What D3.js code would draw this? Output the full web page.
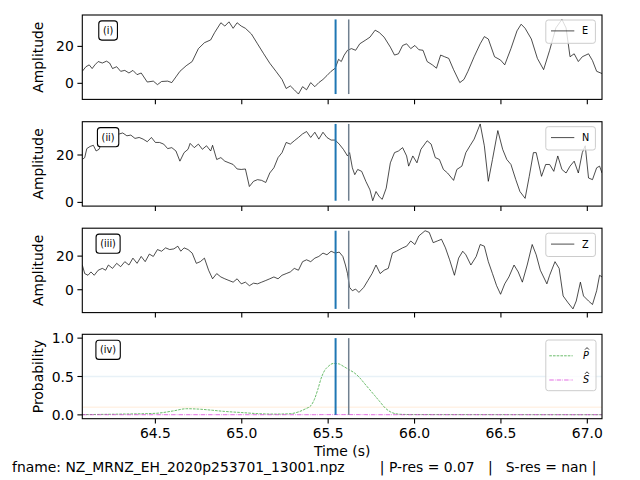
<!DOCTYPE html>
<html><head><meta charset="utf-8">
<script src="https://cdn.jsdelivr.net/npm/d3@7"></script>
<style>body{margin:0;background:#fff}svg text{font-family:"DejaVu Sans",sans-serif}</style>
</head><body>
<svg id="chart" width="640" height="480"></svg>
<script>
// ---------- data ----------
const timeE=[64.077,64.098,64.117,64.134,64.150,64.169,64.193,64.217,64.235,64.252,64.276,64.299,64.323,64.347,64.370,64.394,64.418,64.453,64.488,64.512,64.536,64.571,64.595,64.619,64.642,64.678,64.713,64.749,64.784,64.820,64.843,64.879,64.902,64.926,64.950,64.973,64.997,65.021,65.056,65.091,65.127,65.162,65.198,65.233,65.257,65.281,65.304,65.328,65.352,65.375,65.399,65.423,65.446,65.470,65.493,65.517,65.541,65.560,65.576,65.593,65.612,65.635,65.659,65.683,65.718,65.742,65.772,65.796,65.824,65.860,65.884,65.907,65.931,65.954,65.978,66.002,66.025,66.049,66.073,66.103,66.127,66.151,66.174,66.198,66.226,66.262,66.286,66.309,66.345,66.380,66.404,66.427,66.463,66.498,66.522,66.558,66.593,66.617,66.640,66.676,66.711,66.747,66.782,66.818,66.853,66.877,66.900,66.924,66.948,66.971,67.007,67.030,67.054,67.085];
const ampE=[6.5,9,10,8,10,11.8,11,12,11,8,9,6.5,7,5.6,7,4.7,5.6,0.7,1.2,-0.7,1,1.2,0.4,3.5,6.5,9.5,11.8,18.8,22,23.5,27.5,32.8,31,33.3,29.8,32.8,31,29.8,26.7,21.4,16,10.9,6.5,2.1,-2.8,-1.4,-3.5,-5.8,-1.8,-3.5,0.4,-1.8,0.4,2.1,4.2,6.5,8.2,13,11.8,15.3,17.9,18.8,17.9,21.4,23.5,25,28.8,27.5,25,19.6,15.3,16,20.5,21.4,18.8,20.5,18.2,17.9,11.8,10,8.2,15.3,14.4,13.5,7.4,0.4,2.1,6.5,14.4,21.4,25.3,24,14.4,12.6,10,18.8,28.4,32,29.8,24,13.5,7.4,17.9,30,34.6,30,14.4,16,11.8,14.4,16,12.3,6.5,5.3];

const timeN=[64.077,64.091,64.103,64.122,64.141,64.157,64.174,64.193,64.217,64.252,64.292,64.311,64.335,64.358,64.382,64.406,64.429,64.453,64.477,64.500,64.524,64.548,64.571,64.595,64.619,64.642,64.666,64.689,64.701,64.725,64.749,64.772,64.796,64.820,64.831,64.855,64.879,64.902,64.926,64.950,64.973,64.997,65.021,65.044,65.068,65.091,65.115,65.139,65.162,65.186,65.210,65.233,65.257,65.281,65.304,65.328,65.352,65.375,65.399,65.423,65.446,65.470,65.493,65.517,65.541,65.564,65.588,65.612,65.624,65.640,65.654,65.671,65.694,65.718,65.742,65.758,65.777,65.796,65.813,65.836,65.860,65.884,65.907,65.931,65.954,65.966,65.990,66.014,66.037,66.073,66.096,66.120,66.144,66.167,66.191,66.226,66.245,66.274,66.297,66.321,66.345,66.380,66.404,66.427,66.451,66.482,66.510,66.534,66.558,66.586,66.610,66.640,66.664,66.688,66.704,66.735,66.759,66.782,66.806,66.829,66.853,66.877,66.900,66.924,66.948,66.971,66.988,67.007,67.030,67.054,67.071,67.085];
const ampN=[18.1,18.9,22.7,23.6,24.1,21.7,22.4,26,27.4,28.1,28.9,29.3,28.1,28.4,27,27.4,26.7,25.6,27.4,25.3,25.3,24.6,22.7,23.1,21.7,17.4,21,22.4,24.9,23.1,24.6,22.4,23.9,21.7,24.1,18.1,18.9,17.4,16.7,16,14.1,13.9,14.1,6.7,8.9,9.6,9.3,8.4,12.4,14.6,18.9,21,25.3,24.6,26,27.4,28.9,29.9,27.4,29.6,26.7,29.6,27.4,26.3,26.3,24.6,22.4,19.6,21,14.6,11.7,13.9,13.1,8.9,5.3,0.7,4.6,2.4,1.3,6,16.7,21,21.7,23.1,19.6,15.3,19.6,16.7,22.4,26,24.6,18.9,18.1,13.9,12.4,9.3,13.9,15.3,21,23.9,26.7,33.1,23.9,8.9,18.1,30.3,22.4,18.1,16,9.6,4.6,1.7,11,21,21,11,16,16,13.1,19.6,13.9,12.4,15.3,17.4,12.4,21,23.9,10.3,9.6,14.6,15.3,12.4];

const timeZ=[64.077,64.091,64.110,64.127,64.146,64.169,64.193,64.212,64.228,64.252,64.276,64.299,64.323,64.347,64.370,64.394,64.418,64.441,64.465,64.488,64.512,64.536,64.559,64.583,64.607,64.630,64.647,64.666,64.689,64.713,64.737,64.760,64.784,64.808,64.831,64.855,64.879,64.902,64.926,64.950,64.973,64.997,65.021,65.044,65.068,65.091,65.115,65.139,65.162,65.186,65.210,65.233,65.257,65.281,65.304,65.328,65.352,65.375,65.399,65.423,65.446,65.470,65.493,65.517,65.541,65.564,65.585,65.600,65.612,65.624,65.640,65.659,65.678,65.706,65.730,65.754,65.777,65.801,65.824,65.848,65.872,65.895,65.931,65.954,65.978,66.002,66.025,66.061,66.085,66.108,66.132,66.156,66.179,66.203,66.231,66.255,66.279,66.297,66.326,66.357,66.380,66.404,66.427,66.451,66.475,66.498,66.522,66.546,66.576,66.600,66.624,66.652,66.681,66.704,66.728,66.766,66.782,66.813,66.837,66.860,66.889,66.917,66.936,66.960,66.978,67.007,67.030,67.054,67.071,67.085];
const ampZ=[14.7,9.6,8.6,10.6,8.6,11.6,12.7,11.6,14.7,12.7,15.7,13.7,16.7,14.7,18.8,15.7,19.8,16.7,21.2,19.8,23.9,22.9,24.9,23.9,24.3,25.9,22.9,24.9,23.9,21.8,15.7,16.7,18.8,11.6,6.5,9.6,7.6,6.5,5.5,4.5,6.5,3.5,4.5,2.4,3.9,3.5,4.5,5.5,6.5,7.6,6.5,8.6,9.6,10.6,12.7,11.6,16.7,17.8,16.7,18.8,19.8,21.8,20.8,22.9,21.8,22.4,19.8,14.7,9.6,1.4,-0.6,0.4,-1.6,1.4,5.5,9.6,14.7,9.6,11.6,12.7,21.8,22.9,24.9,25.9,29,26.9,32,35.1,34.1,28,29,30,24.9,17.8,8.6,18.8,22.9,20.8,14.7,19.8,26.9,25.9,16.7,9.6,2.4,-2.7,3.5,7.6,14.7,10.6,4.5,14.7,26.9,20.8,11.6,3.5,8.6,16.7,12.7,-3.7,-7.8,-11.4,-6.7,4.5,-3.7,-6.7,-8.8,-0.6,8.6,7.6];

const timeProb=[64.077,64.3,64.5,64.6,64.68,64.75,64.83,64.9,65.0,65.1,65.2,65.28,65.33,65.37,65.4,65.42,65.44,65.46,65.48,65.5,65.53,65.56,65.59,65.62,65.65,65.68,65.71,65.74,65.77,65.8,65.83,65.86,65.89,65.93,66.0,66.5,67.085];
const probP=[0.003,0.01,0.02,0.05,0.08,0.075,0.06,0.045,0.03,0.015,0.01,0.015,0.04,0.08,0.12,0.2,0.33,0.48,0.58,0.63,0.67,0.665,0.63,0.59,0.55,0.49,0.41,0.33,0.25,0.17,0.09,0.04,0.015,0.006,0.004,0.003,0.002];
const probS=[0.002,0.002,0.002,0.002,0.002,0.002,0.002,0.002,0.002,0.002,0.002,0.002,0.002,0.002,0.002,0.002,0.002,0.003,0.003,0.003,0.003,0.003,0.003,0.003,0.003,0.003,0.003,0.002,0.002,0.002,0.002,0.002,0.002,0.002,0.002,0.002,0.002];

const pickTime=65.543, predTime=65.619;
const xLimits=[64.077,67.085];
const xTicks=[64.5,65.0,65.5,66.0,66.5,67.0];
const yLimitsE=[-8.7,37.0], yLimitsN=[-1.56,34.05], yLimitsZ=[-13.6,36.6], yLimitsProb=[-0.05,1.05];
const yTicksAmp=[0,20], yTicksProb=[0,0.5,1.0];
const panelTags=["(i)","(ii)","(iii)","(iv)"];
const channelNames=["E","N","Z"];
const footerText="fname: NZ_MRNZ_EH_2020p253701_13001.npz        | P-res = 0.07   |   S-res = nan |";

// ---------- layout ----------
const svg=d3.select("#chart");
const L=82.3,R=602,H=84.4;
const tops=[15,121.7,228.2,334.3];
const x=d3.scaleLinear().domain(xLimits).range([L,R]);
const FS=13.9, SMALL=9.7;

function drawAxes(g,y,top,ticks,fmt,showX){
  const bottom=top+H;
  ticks.forEach(v=>{
    const yy=y(v);
    g.append("line").attr("x1",L-4.9).attr("x2",L).attr("y1",yy).attr("y2",yy).attr("stroke","#000").attr("stroke-width",1.1);
    g.append("text").attr("x",L-8.5).attr("y",yy).attr("dy","0.36em").attr("text-anchor","end").attr("font-size",FS).text(fmt(v));
  });
  xTicks.forEach(v=>{
    const xx=x(v);
    g.append("line").attr("x1",xx).attr("x2",xx).attr("y1",bottom).attr("y2",bottom+4.9).attr("stroke","#000").attr("stroke-width",1.1);
    if(showX) g.append("text").attr("x",xx).attr("y",bottom+19.5).attr("text-anchor","middle").attr("font-size",FS).text(v.toFixed(1));
  });
}

function drawFrame(g,top){
  g.append("rect").attr("x",L).attr("y",top).attr("width",R-L).attr("height",H).attr("fill","none").attr("stroke","#000").attr("stroke-width",1.1);
}

function drawTag(g,top,label){
  const tg=g.append("g");
  const r=tg.append("rect").attr("rx",3).attr("fill","#fff").attr("stroke","#000").attr("stroke-width",1.1);
  const t=tg.append("text").attr("x",L+25.8).attr("y",top+15.5).attr("dy","0.36em").attr("text-anchor","middle").attr("font-size",SMALL).text(label);
  const bb=t.node().getBBox();
  r.attr("x",bb.x-4.2).attr("y",top+15.5-9.6).attr("width",bb.width+8.4).attr("height",19.2);
}

function drawPicks(g,y,lo,hi){
  g.append("line").attr("x1",x(pickTime)).attr("x2",x(pickTime)).attr("y1",y(lo)).attr("y2",y(hi)).attr("stroke","#1f77b4").attr("stroke-width",2);
  g.append("line").attr("x1",x(predTime)).attr("x2",x(predTime)).attr("y1",y(lo)).attr("y2",y(hi)).attr("stroke","#708090").attr("stroke-width",1.5);
}

function yLabel(top,text){
  svg.append("text").attr("transform",`translate(37.5,${top+H/2}) rotate(-90)`).attr("text-anchor","middle").attr("dy","0.36em").attr("font-size",FS).text(text);
}

const traces=[[timeE,ampE,yLimitsE],[timeN,ampN,yLimitsN],[timeZ,ampZ,yLimitsZ]];
traces.forEach(([tt,vv,lim],i)=>{
  const top=tops[i];
  const g=svg.append("g");
  const y=d3.scaleLinear().domain(lim).range([top+H,top]);
  const clipId="clip"+i;
  svg.append("clipPath").attr("id",clipId).append("rect").attr("x",L).attr("y",top).attr("width",R-L).attr("height",H);
  const line=d3.line().x(d=>x(d[0])).y(d=>y(d[1]));
  g.append("path").attr("clip-path",`url(#${clipId})`).datum(tt.map((t,k)=>[t,vv[k]])).attr("d",line).attr("fill","none").attr("stroke","#000").attr("stroke-width",0.7);
  drawPicks(g,y,d3.min(vv),d3.max(vv));
  const lg=g.append("g");
  lg.append("rect").attr("x",545.8).attr("y",top+5).attr("width",49.6).attr("height",23.3).attr("rx",2.5).attr("fill","#fff").attr("fill-opacity",0.8).attr("stroke","#cccccc").attr("stroke-width",1);
  lg.append("line").attr("x1",551).attr("x2",574.3).attr("y1",top+15.9).attr("y2",top+15.9).attr("stroke","#000").attr("stroke-width",0.7);
  lg.append("text").attr("x",582).attr("y",top+15.9).attr("dy","0.36em").attr("font-size",SMALL).text(channelNames[i]);
  drawTag(g,top,panelTags[i]);
  drawFrame(g,top);
  drawAxes(g,y,top,yTicksAmp,d3.format("d"),false);
  yLabel(top,"Amplitude");
});

(function(){
  const top=tops[3];
  const g=svg.append("g");
  const y=d3.scaleLinear().domain(yLimitsProb).range([top+H,top]);
  g.append("line").attr("x1",L).attr("x2",R).attr("y1",y(0.5)).attr("y2",y(0.5)).attr("stroke","#1f77b4").attr("stroke-opacity",0.1).attr("stroke-width",1.5);
  g.append("line").attr("x1",L).attr("x2",R).attr("y1",y(0.1)).attr("y2",y(0.1)).attr("stroke","#ff7f0e").attr("stroke-opacity",0.1).attr("stroke-width",1.5);
  const line=d3.line().x(d=>x(d[0])).y(d=>y(d[1])).curve(d3.curveMonotoneX);
  g.append("path").datum(timeProb.map((t,k)=>[t,probP[k]])).attr("d",line).attr("fill","none").attr("stroke","#2ca02c").attr("stroke-width",0.7).attr("stroke-dasharray","2.6,1.1");
  g.append("path").datum(timeProb.map((t,k)=>[t,probS[k]])).attr("d",line).attr("fill","none").attr("stroke","#d62fd6").attr("stroke-width",0.7).attr("stroke-dasharray","4.5,1.1,0.7,1.1");
  drawPicks(g,y,0,1);
  const lg=g.append("g");
  lg.append("rect").attr("x",545.8).attr("y",top+5.7).attr("width",50.2).attr("height",50.7).attr("rx",2.5).attr("fill","#fff").attr("fill-opacity",0.8).attr("stroke","#cccccc").attr("stroke-width",1);
  [["#2ca02c","2.6,1.1","P",21.5],["#d62fd6","4.5,1.1,0.7,1.1","S",45.7]].forEach(([col,dash,lab,dy])=>{
    lg.append("line").attr("x1",549.3).attr("x2",572.7).attr("y1",top+dy).attr("y2",top+dy).attr("stroke",col).attr("stroke-width",0.7).attr("stroke-dasharray",dash);
    lg.append("text").attr("x",583).attr("y",top+dy).attr("dy","0.36em").attr("font-size",SMALL).attr("font-style","italic").text(lab);
    const hx=587, hy=top+dy-6.2;
    lg.append("path").attr("d",`M${hx-2},${hy}L${hx},${hy-2}L${hx+2},${hy}`).attr("fill","none").attr("stroke","#000").attr("stroke-width",0.8);
  });
  drawTag(g,top,panelTags[3]);
  drawFrame(g,top);
  drawAxes(g,y,top,yTicksProb,d3.format(".1f"),true);
  yLabel(top,"Probability");
})();

svg.append("text").attr("x",(L+R)/2).attr("y",455.5).attr("text-anchor","middle").attr("font-size",FS).text("Time (s)");
svg.append("text").attr("x",12).attr("y",471.5).attr("font-size",FS).attr("xml:space","preserve").style("white-space","pre").text(footerText);
</script>
</body></html>
